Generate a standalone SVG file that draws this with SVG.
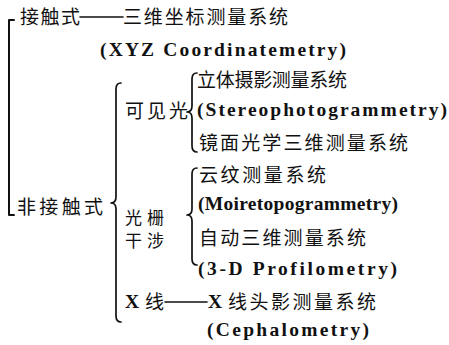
<svg xmlns="http://www.w3.org/2000/svg" width="449" height="345" viewBox="0 0 449 345">
<style>
.cn{font-family:"Noto Sans CJK SC","Noto Sans",sans-serif;font-size:19px;fill:#111}
.cs{font-family:"Noto Sans CJK SC","Noto Sans",sans-serif;font-size:17px;fill:#111}
.en{font-family:"Liberation Serif","DejaVu Serif",serif;font-size:19.5px;font-weight:bold;fill:#111}
.ln{fill:none;stroke:#111;stroke-width:1.6;stroke-linecap:round;stroke-linejoin:round}
.br{fill:none;stroke:#111;stroke-width:1.7;stroke-linecap:round;stroke-linejoin:round}
</style>
<rect width="449" height="345" fill="#fff"/>
<g id="connectors">
  <path class="br" d="M14,20 L9,20 L9,215 L14,215" style="stroke-width:2"/>
  <line class="ln" x1="80" y1="17" x2="123" y2="17"/>
  <line class="ln" x1="165" y1="302" x2="207" y2="302"/>
  <path class="br" d="M121,83 Q116,83 116,89 L116,197 Q116,203 111,203 Q116,203 116,209 L116,316 Q116,322 121,322"/>
  <path class="br" d="M197,73 Q192,73 192,79 L192,106 Q192,112 187,112 Q192,112 192,118 L192,146 Q192,152 197,152"/>
  <path class="br" d="M197,168 Q192,168 192,174 L192,209 Q192,215 187,215 Q192,215 192,221 L192,259 Q192,265 197,265"/>
</g>
<g id="contact">
  <text class="cn" x="20" y="24" textLength="60" lengthAdjust="spacing">接触式</text>
  <text class="cn" x="123" y="24" textLength="165" lengthAdjust="spacing">三维坐标测量系统</text>
  <text class="en" x="100" y="56" textLength="246" lengthAdjust="spacing">(XYZ Coordinatemetry)</text>
</g>
<g id="noncontact">
  <text class="cn" x="17" y="214" textLength="86" lengthAdjust="spacing">非接触式</text>
</g>
<g id="visible">
  <text class="cn" x="125" y="118" textLength="63" lengthAdjust="spacing">可见光</text>
  <text class="cn" x="197" y="87" textLength="150" lengthAdjust="spacing">立体摄影测量系统</text>
  <text class="en" x="197" y="116" textLength="250" lengthAdjust="spacing">(Stereophotogrammetry)</text>
  <text class="cn" x="199" y="150" textLength="209" lengthAdjust="spacing">镜面光学三维测量系统</text>
</g>
<g id="grating">
  <text class="cs" x="125" y="224" textLength="39" lengthAdjust="spacing">光栅</text>
  <text class="cs" x="125" y="247" textLength="39" lengthAdjust="spacing">干涉</text>
  <text class="cn" x="199" y="182" textLength="127" lengthAdjust="spacing">云纹测量系统</text>
  <text class="en" x="198" y="210" textLength="200" lengthAdjust="spacing">(Moiretopogrammetry)</text>
  <text class="cn" x="199" y="245" textLength="167" lengthAdjust="spacing">自动三维测量系统</text>
  <text class="en" x="198" y="275" textLength="199" lengthAdjust="spacing">(3-D Profilometry)</text>
</g>
<g id="xray">
  <text class="en" x="125" y="308">X</text>
  <text class="cn" x="145" y="309">线</text>
  <text class="en" x="208" y="308">X</text>
  <text class="cn" x="228" y="309" textLength="148" lengthAdjust="spacing">线头影测量系统</text>
  <text class="en" x="207" y="336" textLength="162" lengthAdjust="spacing">(Cephalometry)</text>
</g>
</svg>
